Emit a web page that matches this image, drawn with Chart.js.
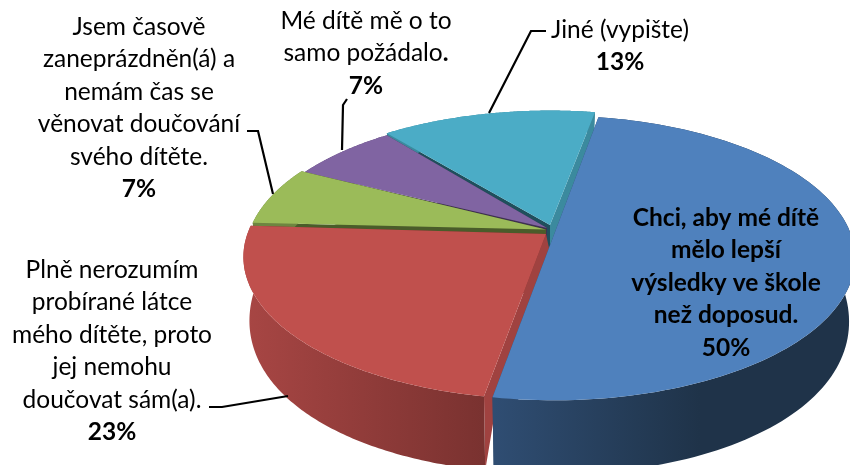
<!DOCTYPE html>
<html lang="cs">
<head>
    <meta charset="UTF-8">
    <title>Důvody doučování</title>
    <style>
        body { margin: 0; background: #fff; }
        canvas { display: block; }
    </style>
    <script src="https://cdn.jsdelivr.net/npm/chart.js"></script>
</head>
<body>
<canvas id="pie" width="850" height="465"></canvas>
<script>
    const categories = [
        ["Chci, aby mé dítě", "mělo lepší", "výsledky ve škole", "než doposud."],
        ["Plně nerozumím", "probírané látce", "mého dítěte, proto", "jej nemohu", "doučovat sám(a)."],
        ["Jsem časově", "zaneprázdněn(á) a", "nemám čas se", "věnovat doučování", "svého dítěte."],
        ["Mé dítě mě o to", "samo požádalo."],
        ["Jiné (vypište)"]
    ];
    const values = [50, 23.3, 6.7, 6.7, 13.3];
    const percentLabels = ["50%", "23%", "7%", "7%", "13%"];
    const colors = ["#4F81BD", "#C0504D", "#9BBB59", "#8064A2", "#4BACC6"];

    // perspective of the pie plane, fitted to the picture
    const RX = 298, RY = 139, PERSP = 0.154;
    const FONT = '"Lato", sans-serif', FONT_SIZE = 24.5, LINE_H = 32.5;

    // per slice look: rim centre, apex, side wall colours
    const slicePlace = [
        { rim: [553.5, 236], apex: [553.5, 236], rimFrom: "#2F4D72", rimTo: "#1F3349", startWall: "#2E4A6C", endWall: "#2E4A6C", x0: 495, x1: 700 },
        { rim: [545, 235], apex: [546, 234], rimFrom: "#A84644", rimTo: "#7A3230", startWall: "#A04240", endWall: "#7A3230", x0: 243, x1: 482, startFoot: [{ x: 500, y: 382 }, { x: 560, y: 300 }] },
        { rim: [547, 232], apex: [546, 229.5], rimFrom: "#6E8540", rimTo: "#6E8540", startWall: "#4A5C2A", endWall: "#4A5C2A", x0: 250, x1: 310 },
        { rim: [550, 233], apex: [547, 228], rimFrom: "#5C4875", rimTo: "#5C4875", startWall: "#3E3050", endWall: "#3E3050", x0: 300, x1: 390 },
        { rim: [550, 231], apex: [550, 225], rimFrom: "#3B8A9E", rimTo: "#3B8A9E", startWall: "#1F4F5C", endWall: "#3B8A9E", x0: 390, x1: 600 }
    ];
    const drawOrder = [4, 3, 2, 1, 0];

    const labelPlace = [
        { x: 726, y: 218, bold: true, pctX: 726 },
        { x: 112, y: 270, pctX: 112 },
        { x: 139, y: 27, pctX: 139 },
        { x: 366, y: 21, pctX: 366, boldDot: true },
        { x: 620, y: 30, pctX: 620 }
    ];
    const leaderLines = [
        [[209, 407], [222, 407], [288, 396]],
        [[247, 131], [258, 131], [273, 194]],
        [[347, 99], [343, 105], [342, 150]],
        [[546, 31], [531, 31], [489, 113]]
    ];

    function rimPoint(angle, c) {
        const u = Math.cos(angle), v = Math.sin(angle);
        const w = 1 - PERSP * v;
        return { x: c[0] + RX * u / w, y: c[1] + RY * v / w, v: v };
    }

    function wallDepth(v) {
        return 60 + 27 * v - 13 * v * v;
    }

    function below(p, c) {
        return { x: c[0] + (p.x - c[0]) * 0.98, y: p.y + wallDepth(p.v) };
    }

    function path(ctx, pts) {
        ctx.beginPath();
        pts.forEach((p, i) => i ? ctx.lineTo(p.x, p.y) : ctx.moveTo(p.x, p.y));
        ctx.closePath();
    }

    function drawSlice(ctx, arc, i) {
        const s = slicePlace[i];
        const rim = [];
        const steps = 120;
        for (let k = 0; k <= steps; k++) {
            rim.push(rimPoint(arc.startAngle + (arc.endAngle - arc.startAngle) * k / steps, s.rim));
        }
        const apex = { x: s.apex[0], y: s.apex[1], v: 0 };
        const first = rim[0], last = rim[rim.length - 1];

        // radial walls
        ctx.fillStyle = s.endWall;
        path(ctx, [apex, last, below(last, s.rim), below(apex, s.rim)]);
        ctx.fill();
        const foot = s.startFoot || [below(apex, s.rim)];
        ctx.fillStyle = s.startWall;
        path(ctx, [apex, first, below(first, s.rim)].concat(foot));
        ctx.fill();

        // rim wall
        const g = ctx.createLinearGradient(s.x0, 0, s.x1, 0);
        g.addColorStop(0, s.rimFrom);
        g.addColorStop(1, s.rimTo);
        ctx.fillStyle = g;
        path(ctx, rim.concat(rim.map(p => below(p, s.rim)).reverse()));
        ctx.fill();

        // top
        ctx.fillStyle = colors[i];
        path(ctx, [apex].concat(rim));
        ctx.fill();
    }

    function drawLabels(ctx) {
        ctx.textBaseline = "middle";
        ctx.textAlign = "left";
        ctx.fillStyle = "#000";
        categories.forEach((lines, i) => {
            const p = labelPlace[i];
            const weight = p.bold ? "bold " : "";
            ctx.font = weight + FONT_SIZE + "px " + FONT;
            lines.forEach((line, n) => {
                const y = p.y + n * LINE_H;
                const w = ctx.measureText(line).width;
                if (p.boldDot && line.endsWith(".")) {
                    const head = line.slice(0, -1);
                    const hw = ctx.measureText(head).width;
                    ctx.fillText(head, p.x - w / 2, y);
                    ctx.font = "bold " + FONT_SIZE + "px " + FONT;
                    ctx.fillText(".", p.x - w / 2 + hw, y);
                    ctx.font = weight + FONT_SIZE + "px " + FONT;
                } else {
                    ctx.fillText(line, p.x - w / 2, y);
                }
            });
            ctx.font = "bold " + FONT_SIZE + "px " + FONT;
            const pct = percentLabels[i];
            ctx.fillText(pct, p.pctX - ctx.measureText(pct).width / 2, p.y + lines.length * LINE_H);
        });
    }

    const pie3d = {
        id: "pie3d",
        beforeDatasetDraw(chart) {
            const arcs = chart.getDatasetMeta(0).data;
            drawOrder.forEach(i => drawSlice(chart.ctx, arcs[i], i));
            return false;
        },
        afterDraw(chart) {
            const ctx = chart.ctx;
            ctx.save();
            ctx.strokeStyle = "#000";
            ctx.lineWidth = 2.2;
            leaderLines.forEach(line => {
                ctx.beginPath();
                line.forEach((p, i) => i ? ctx.lineTo(p[0], p[1]) : ctx.moveTo(p[0], p[1]));
                ctx.stroke();
            });
            drawLabels(ctx);
            ctx.restore();
        }
    };

    new Chart(document.getElementById("pie"), {
        type: "pie",
        data: {
            labels: categories.map(c => c.join(" ")),
            datasets: [{ data: values, backgroundColor: colors, borderWidth: 0 }]
        },
        options: {
            responsive: false,
            animation: false,
            rotation: 10,
            plugins: {
                legend: { display: false },
                tooltip: { enabled: false }
            }
        },
        plugins: [pie3d]
    });
</script>
</body>
</html>
